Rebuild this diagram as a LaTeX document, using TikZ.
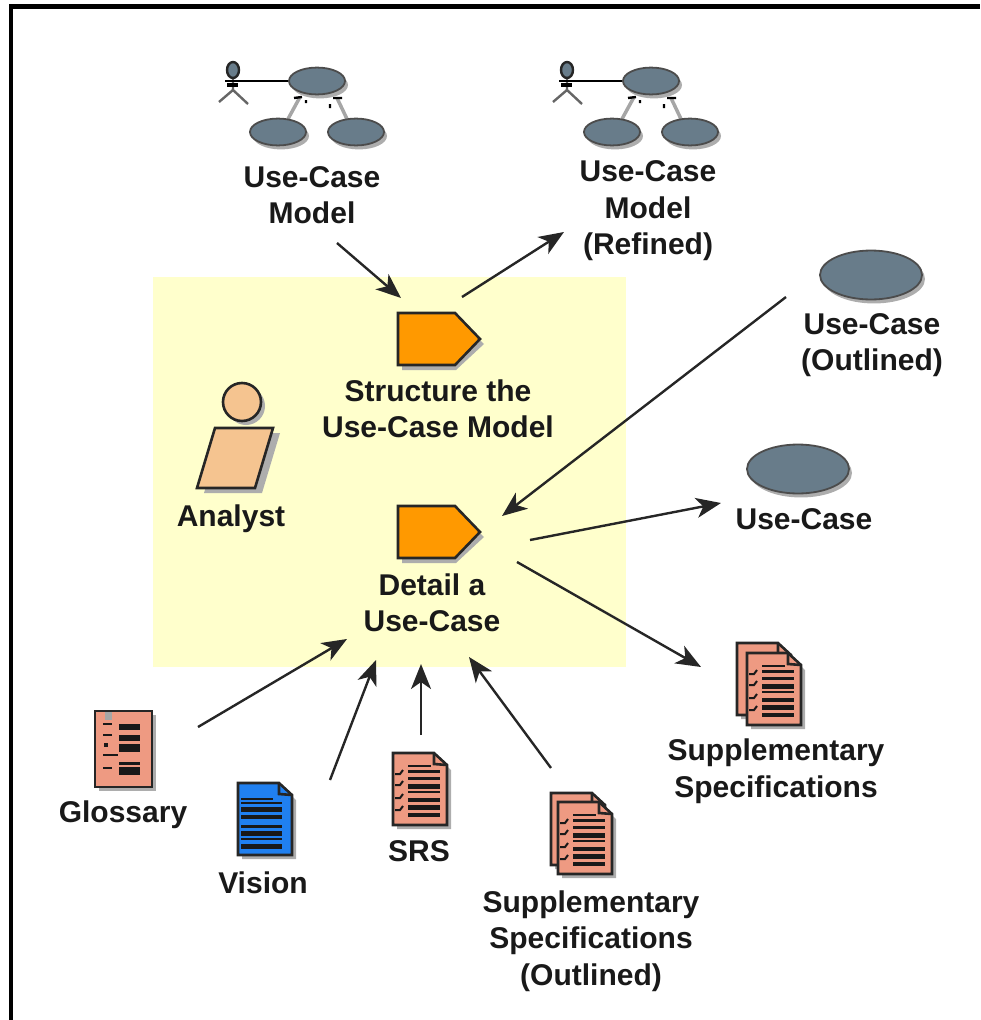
\documentclass[tikz,border=0pt]{standalone}
\usepackage{fontspec}
\setmainfont{Liberation Sans}
\usetikzlibrary{arrows.meta}

\definecolor{notepaper}{HTML}{FFFFCC}
\definecolor{taskorange}{HTML}{FF9900}
\definecolor{workerskin}{HTML}{F5C490}
\definecolor{casegray}{HTML}{687C8A}
\definecolor{docsalmon}{HTML}{EE9A82}
\definecolor{docblue}{HTML}{2080F0}

\tikzset{
    lbl/.style={font=\fontsize{30}{36.5}\selectfont\bfseries, align=center, text=black!90, inner sep=0pt},
    flow/.style={draw=black!85, line width=2.4pt, -{Stealth[length=25pt, width=20pt, inset=7pt]}},
    shade/.style={fill=black!32, draw=none},
    outline/.style={draw=black!85, line width=2.6pt},
    % small use-case oval, centred on the pic
    pics/caseoval/.style={code={
        \fill[shade] (3,4) ellipse [x radius=#1, y radius=#1*0.48];
        \draw[outline, draw=black!70, line width=1.8pt, fill=casegray] (0,0) ellipse [x radius=#1, y radius=#1*0.48];
    }},
    % actor with three use-cases, origin top left
    pics/casemodel/.style={code={
        \draw[black!60, line width=2.4pt] (33,38) -- (33,50) (33,50) -- (19,62) (33,50) -- (48,64);
        \draw[black, line width=2.2pt] (25,41) -- (90,41);
        \draw[black, line width=3.5pt] (27,45) -- (38,45);
        \draw[outline, line width=2.4pt, fill=casegray] (33,30) ellipse [x radius=6, y radius=8];
        \draw[black!35, line width=3.5pt] (100,57) -- (88,79) (137,58) -- (147,79);
        \draw[black, line width=2.4pt] (94,58) -- (102,57) (133,58) -- (142,58) (106,60) -- (106,63) (130,64) -- (130,68);
        \pic at (117,41) {caseoval=28};
        \pic at (78,92) {caseoval=28};
        \pic at (156,92) {caseoval=28};
    }},
    % orange activity, origin top left
    pics/taskshape/.style={code={
        \fill[shade] (4,5) -- (58,5) -- (86,31) -- (58,57) -- (4,57) -- cycle;
        \draw[outline, fill=taskorange] (0,0) -- (57,0) -- (82,26) -- (57,52) -- (0,52) -- cycle;
    }},
    % sheet with folded corner, origin top left
    pics/docsheet/.style={code={
        \fill[shade] (4,4) -- (44,4) -- (58,17) -- (58,76) -- (4,76) -- cycle;
        \draw[outline, fill=#1] (0,0) -- (41,0) -- (54,12) -- (54,72) -- (0,72) -- cycle;
        \draw[outline] (41,0) -- (41,11) -- (54,12);
    }},
    % text rows and ticks
    pics/checkrows/.style={code={
        \foreach \ypos/\wid in {18/3, 25/3, 33/5, 39/2, 47/3.5, 54/5, 62/3.5}
            \draw[black!90, line width=\wid pt] (15,\ypos) -- (47,\ypos);
        \draw[black!90, line width=1.8pt] (15,13) -- (38,13);
        \foreach \ypos in {21, 32, 45, 57}
            \draw[black!90, line width=2pt] (2,\ypos) -- (7,\ypos) -- (10,\ypos-4);
    }},
    pics/plainrows/.style={code={
        \foreach \ypos/\wid in {20/2, 26/5, 34/3.5, 43/3, 50/5, 56/1.5, 63/5}
            \draw[black!90, line width=\wid pt] (3,\ypos) -- (44,\ypos);
        \draw[black!90, line width=2pt] (3,16) -- (35,16);
    }},
    pics/glossdoc/.style={code={
        \fill[shade] (4,4) rectangle (61,80);
        \draw[outline, fill=docsalmon] (0,0) rectangle (57,76);
        \fill[black!35] (10,1) rectangle (17,9);
        \foreach \ypos/\wid in {16/6, 27/6, 37/8, 52/3, 60/8}
            \draw[black!90, line width=\wid pt] (24,\ypos) -- (45,\ypos);
        \foreach \ypos/\xend in {13/17, 24/17, 44/23, 57/17}
            \draw[black!90, line width=2pt] (8,\ypos) -- (\xend,\ypos);
        \fill[black!90] (9,32) rectangle (13,36);
    }},
}

\begin{document}
\begin{tikzpicture}[x=1pt, y=-1pt]
    \useasboundingbox (0,0) rectangle (980,1020);
    \draw[black, line width=4.5pt] (11,1020) -- (11,6.5) -- (980,6.5);
    \fill[notepaper] (153,277) rectangle (626,667);

    % icons
    \pic at (200,40) {casemodel};
    \pic at (534,40) {casemodel};
    \pic at (871,275) {caseoval=51};
    \pic at (798,469) {caseoval=51};
    \pic at (398,313) {taskshape};
    \pic at (398,506) {taskshape};

    % analyst
    \fill[shade] (222,433) -- (280,433) -- (262,493) -- (204,493) -- cycle;
    \fill[shade] (246,406) circle (19);
    \draw[outline, fill=workerskin] (215,428) -- (273,428) -- (255,488) -- (197,488) -- cycle;
    \draw[outline, fill=workerskin] (242,402) circle (19);

    % artifacts
    \pic at (95,711) {glossdoc};
    \pic at (238,783) {docsheet=docblue};
    \pic at (238,783) {plainrows};
    \pic at (393,753) {docsheet=docsalmon};
    \pic at (393,753) {checkrows};
    \pic at (551,793) {docsheet=docsalmon};
    \pic at (558,802) {docsheet=docsalmon};
    \pic at (558,802) {checkrows};
    \pic at (737,643) {docsheet=docsalmon};
    \pic at (747,653) {docsheet=docsalmon};
    \pic at (747,653) {checkrows};

    % labels
    \node[lbl] (modelin) at (312,195) {Use-Case\\Model};
    \node[lbl] (modelout) at (648,211) {Use-Case\\Model\\(Refined)};
    \node[lbl] (caseoutlined) at (872,345) {Use-Case\\(Outlined)};
    \node[lbl] (structure) at (438,409) {Structure the\\Use-Case Model};
    \node[lbl] (analyst) at (231,519) {Analyst};
    \node[lbl] (detail) at (432,603) {Detail a\\Use-Case};
    \node[lbl] (usecase) at (804,519) {Use-Case};
    \node[lbl] (supp) at (776,771) {Supplementary\\Specifications};
    \node[lbl] (glossary) at (123,815) {Glossary};
    \node[lbl] (vision) at (263,883) {Vision};
    \node[lbl] (srs) at (419,851) {SRS};
    \node[lbl] (suppoutlined) at (591,941) {Supplementary\\Specifications\\(Outlined)};

    % free ends of the flows
    \coordinate (s1) at (337,243);
    \coordinate (t1) at (401,298);
    \coordinate (s2) at (462,297);
    \coordinate (t2) at (564,232);
    \coordinate (s3) at (786,297);
    \coordinate (t3) at (502,516);
    \coordinate (s4) at (530,540);
    \coordinate (t4) at (721,503);
    \coordinate (s5) at (517,562);
    \coordinate (t5) at (701,667);
    \coordinate (s6) at (198,727);
    \coordinate (t6) at (347,639);
    \coordinate (s7) at (330,780);
    \coordinate (t7) at (376,660);
    \coordinate (s8) at (421,735);
    \coordinate (t8) at (421,664);
    \coordinate (s9) at (551,768);
    \coordinate (t9) at (469,657);

    \foreach \i in {1,...,9}
        \draw[flow] (s\i) -- (t\i);
\end{tikzpicture}
\end{document}
